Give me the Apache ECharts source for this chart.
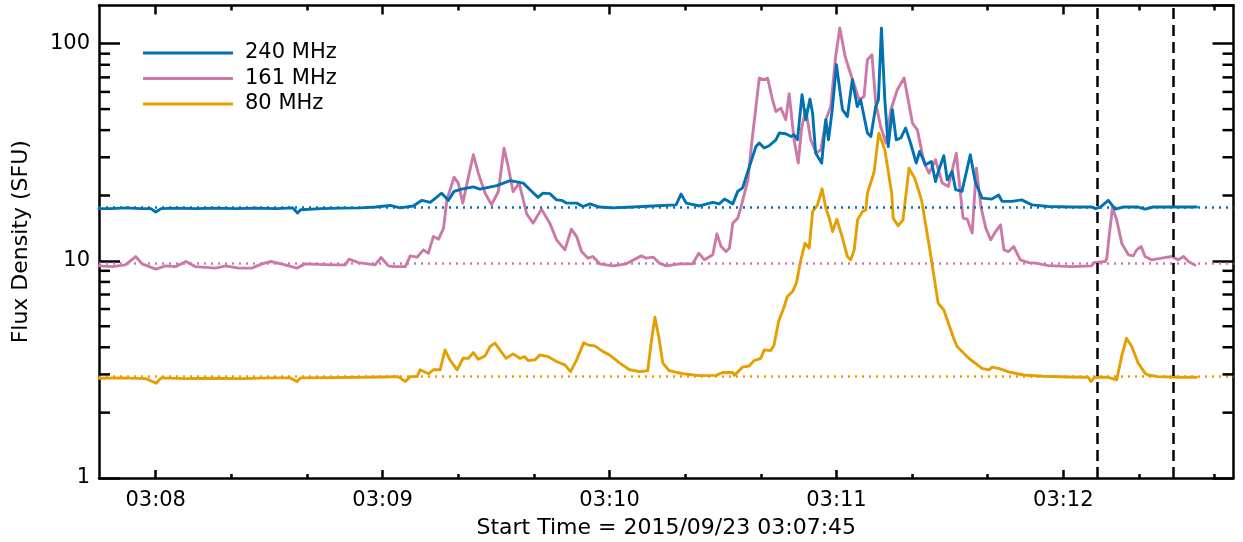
<!DOCTYPE html>
<html>
<head>
<meta charset="utf-8">
<script src="https://cdn.jsdelivr.net/npm/echarts@6/dist/echarts.min.js"></script>
<style>
html,body{margin:0;padding:0;background:#fff;}
#chart{width:1243px;height:542px;}
</style>
</head>
<body>
<div id="chart"></div>
<script>
// time axis: seconds after 03:07:00 ; plot spans 03:07:45 .. 03:12:45
const xMin = 45, xMax = 345;
const xMajor = [60, 120, 180, 240, 300];
const xLabels = ['03:08', '03:09', '03:10', '03:11', '03:12'];
const xMinor = [80, 100, 140, 160, 200, 220, 260, 280, 320, 340];
const yMinorTicks = [2, 3, 4, 5, 6, 7, 8, 9, 20, 30, 40, 50, 60, 70, 80, 90];
const seriesNames = ['240 MHz', '161 MHz', '80 MHz'];
const backgroundLevels = [17.7, 9.7, 2.95];
const eventLines = [309, 329]; // 03:12:09 and 03:12:29
const xTitle = 'Start Time = 2015/09/23 03:07:45';
const yTitle = 'Flux Density (SFU)';

const t240 = [45.0,48.2,52.1,56.1,58.7,60.0,61.4,65.3,70.6,75.9,81.1,86.4,91.7,96.2,97.5,98.3,103.6,108.8,114.1,118.1,122.0,124.6,128.1,130.4,132.6,135.6,137.4,138.9,140.9,144.0,145.7,150.2,153.7,157.2,158.9,161.1,162.4,164.2,166.0,167.3,168.6,171.3,173.0,174.8,177.4,180.9,186.1,191.4,197.6,198.9,200.3,203.8,207.3,209.0,210.4,212.6,213.9,215.2,217.0,218.7,219.6,220.9,222.2,224.0,224.9,226.6,228.0,228.8,229.7,230.9,231.9,233.0,233.7,234.5,236.1,237.2,237.9,238.9,240.0,241.6,242.9,244.2,245.5,246.4,248.2,249.1,250.4,251.1,251.9,252.8,253.7,254.8,255.8,257.0,258.3,259.6,261.1,262.0,263.6,265.1,266.2,267.1,268.4,269.3,270.6,271.5,273.2,275.4,276.7,278.5,281.1,282.9,283.8,286.4,289.0,291.7,296.1,302.2,307.5,308.5,309.8,311.9,313.7,315.9,319.8,321.6,323.8,329.1,335.2];
const v240 = [17.4,17.4,17.55,17.4,17.4,16.8,17.4,17.5,17.4,17.5,17.4,17.5,17.4,17.55,16.6,17.2,17.4,17.5,17.55,17.7,18.0,17.55,17.9,19.0,18.6,20.5,19.0,20.9,21.4,21.9,21.4,22.2,23.4,22.8,21.3,19.6,20.5,20.4,19.1,19.0,18.45,18.45,17.8,18.3,17.7,17.55,17.7,17.9,18.1,20.3,18.45,17.9,18.6,18.3,19.25,18.3,20.9,21.7,27.2,33.6,34.9,33.1,33.9,36.1,38.8,38.5,37.4,38.1,36.1,58.2,44.7,55.6,47.9,31.4,28.2,44.7,36.1,49.7,80.0,49.7,46.2,68.3,51.4,55.2,38.8,37.4,51.4,55.2,118,55.2,33.6,49.7,36.1,36.8,40.9,34.9,28.2,31.9,27.7,28.7,23.2,26.3,30.5,23.6,25.8,21.3,20.9,30.8,23.2,19.45,19.25,20.1,18.8,18.8,19.1,18.1,17.8,17.7,17.7,17.4,17.7,19.0,17.3,17.7,17.7,17.3,17.7,17.7,17.7];

const t161 = [45.0,48.5,52.0,54.7,56.4,60.0,62.6,65.2,68.0,70.5,75.8,78.4,81.9,85.4,88.1,90.5,94.2,97.3,99.5,106.5,110.1,111.1,113.6,118.0,119.6,121.5,122.9,126.0,127.3,129.1,130.8,132.1,133.4,134.8,136.1,137.0,138.9,140.0,141.2,142.7,144.0,145.3,147.1,148.8,150.6,152.1,153.2,154.5,156.1,158.1,159.8,162.0,164.2,166.0,168.2,169.9,171.3,172.6,174.3,175.6,177.4,180.9,184.4,188.4,189.7,191.6,193.2,195.0,198.5,202.0,203.6,205.1,207.3,208.4,209.5,210.8,211.7,212.6,213.9,214.8,216.6,217.5,219.6,220.9,221.8,223.1,224.0,225.3,226.6,227.5,228.8,229.9,230.8,231.9,233.2,234.7,235.9,237.2,238.5,239.8,240.9,242.3,243.4,244.7,246.0,247.3,248.2,249.4,250.4,251.7,253.1,254.4,256.1,257.9,260.1,261.4,263.2,264.5,266.2,268.0,269.6,271.7,272.6,273.5,274.6,275.9,277.0,278.2,279.5,280.8,282.1,283.4,284.3,285.5,286.9,288.6,290.8,292.6,296.1,302.2,307.5,308.0,311.1,311.5,312.2,313.0,314.1,315.5,317.2,318.5,319.4,320.6,321.6,323.4,326.0,328.7,330.4,331.8,333.1,334.8];
const v161 = [9.48,9.41,9.58,10.47,9.69,9.16,9.48,9.41,9.93,9.41,9.26,9.48,9.26,9.26,9.69,9.93,9.58,9.26,9.69,9.58,9.58,10.18,9.82,9.58,10.36,9.48,9.41,9.41,10.54,10.40,11.24,10.85,12.94,12.59,14.15,19.10,24.30,22.81,18.45,24.46,30.80,25.36,20.51,18.12,20.86,33.06,27.20,20.86,22.81,16.44,14.92,17.31,14.92,12.50,11.24,14.00,12.94,11.04,10.29,10.47,9.69,9.48,9.69,10.54,10.29,10.40,9.76,9.48,9.69,9.69,10.85,10.11,10.66,13.32,11.64,11.04,11.44,14.92,15.73,17.79,23.62,33.63,69.50,68.27,69.50,55.21,48.75,50.54,44.65,58.84,36.12,28.20,40.88,49.65,36.12,31.35,32.48,44.65,51.41,87.40,118.1,87.40,75.90,64.74,55.21,57.17,84.42,88.98,53.31,41.59,34.86,49.65,61.38,69.50,43.12,40.15,28.20,25.36,29.20,22.81,22.00,31.35,22.00,15.73,15.56,13.42,26.74,17.79,14.15,12.50,13.65,14.65,11.24,11.04,11.64,10.11,9.82,9.76,9.51,9.41,9.48,9.82,9.93,10.29,13.42,17.55,15.45,11.98,10.66,10.54,11.24,11.64,10.47,10.11,10.29,10.47,10.11,10.47,9.93,9.58];

const t80 = [45.0,50.8,57.4,60.1,61.4,67.9,74.5,82.4,90.4,95.6,97.3,98.3,106.2,114.1,120.7,124.1,126.0,127.3,129.1,129.9,132.1,133.4,135.2,136.5,137.8,139.7,141.3,142.7,144.0,145.3,147.1,148.4,149.7,151.0,152.6,154.5,156.3,157.6,158.5,160.3,161.6,163.8,166.0,168.2,169.7,171.3,173.2,174.3,176.1,178.3,180.0,182.7,185.3,188.0,190.1,191.0,192.0,193.0,194.1,195.8,199.4,203.8,208.2,209.9,212.6,213.0,215.2,216.9,218.2,220.0,220.9,222.6,223.5,224.7,226.2,227.0,228.4,229.4,230.6,231.7,232.8,233.7,235.0,236.2,237.2,238.1,239.0,240.1,241.5,242.9,243.8,244.7,245.6,246.9,247.8,248.2,249.6,250.0,251.2,252.8,254.6,255.0,256.3,257.6,259.2,260.7,262.5,264.7,266.9,268.4,271.0,271.9,275.0,278.5,280.3,281.2,282.9,285.5,289.5,294.7,301.3,306.6,307.3,308.2,311.9,314.1,315.4,316.7,318.1,319.8,321.6,322.4,325.1,330.4,335.2];
const v80 = [2.88,2.89,2.87,2.73,2.89,2.87,2.88,2.87,2.89,2.89,2.78,2.89,2.90,2.91,2.92,2.93,2.78,2.93,2.93,3.15,3.02,3.15,3.15,3.89,3.50,3.15,3.56,3.56,3.78,3.52,3.65,4.03,4.18,3.89,3.56,3.73,3.56,3.62,3.47,3.50,3.69,3.62,3.44,3.32,3.09,3.50,4.20,4.10,4.06,3.82,3.69,3.38,3.15,3.09,3.12,4.18,5.50,4.48,3.38,3.12,3.02,2.96,2.97,3.06,3.06,2.97,3.24,3.28,3.47,3.56,3.89,3.86,4.10,5.25,6.16,6.85,7.22,7.89,10.11,12.07,11.44,16.87,18.12,21.47,17.50,15.73,13.65,15.56,12.94,10.47,10.11,11.24,15.45,16.87,17.18,20.51,24.46,25.98,38.77,32.48,20.51,15.73,14.50,15.45,26.74,24.05,19.10,11.24,6.38,5.94,4.40,4.03,3.56,3.20,3.15,3.24,3.20,3.08,2.98,2.94,2.92,2.91,2.78,2.91,2.91,2.83,3.62,4.40,4.03,3.38,3.04,2.98,2.93,2.91,2.91];

const colors = ['#0072B2', '#CC79A7', '#E69F00'];
const FONT = 'DejaVu Sans';
const LW = 2.9;

function zip(t, v) { return t.map((x, i) => [x, v[i]]); }
const seriesData = [zip(t240, v240), zip(t161, v161), zip(t80, v80)];

const chart = echarts.init(document.getElementById('chart'), null, {renderer: 'canvas'});

const lineSeries = seriesNames.map((name, i) => {
  const mlData = [{yAxis: backgroundLevels[i], lineStyle: {color: colors[i], type: [2, 5], width: 2.5}}];
  if (i === 0) {
    eventLines.forEach(x => mlData.push({xAxis: x, lineStyle: {color: '#000', type: [11, 6], width: 2.5}}));
  }
  return {
    name: name,
    type: 'line',
    data: seriesData[i],
    xAxisIndex: 0, yAxisIndex: 0,
    symbol: 'none',
    smooth: false,
    z: 5 - i,
    lineStyle: {color: colors[i], width: LW, join: 'round', cap: 'round'},
    itemStyle: {color: colors[i]},
    markLine: {silent: true, symbol: ['none', 'none'], label: {show: false}, animation: false, data: mlData}
  };
});

const minorTickSeries = {
  type: 'custom',
  name: 'yMinorTicks',
  coordinateSystem: 'cartesian2d',
  xAxisIndex: 0, yAxisIndex: 0,
  silent: true,
  clip: false,
  z: 10,
  data: yMinorTicks.map(v => [xMin, v]),
  renderItem: function (params, api) {
    const p = api.coord([xMin, api.value(1)]);
    const q = api.coord([xMax, api.value(1)]);
    return {
      type: 'group',
      children: [
        {type: 'line', shape: {x1: p[0], y1: p[1], x2: p[0] + 11, y2: p[1]}, style: {stroke: '#000', lineWidth: 2.5}},
        {type: 'line', shape: {x1: q[0] - 11, y1: q[1], x2: q[0], y2: q[1]}, style: {stroke: '#000', lineWidth: 2.5}}
      ]
    };
  }
};

function xAxisBase(pos, values, len, showLine) {
  return {
    type: 'value', position: pos, min: xMin, max: xMax,
    axisLine: {show: showLine, onZero: false, lineStyle: {color: '#000', width: 2.5}},
    axisTick: {show: true, inside: true, length: len, customValues: values, lineStyle: {color: '#000', width: 2.5}},
    axisLabel: {show: false},
    splitLine: {show: false}
  };
}

const xAxes = [
  Object.assign(xAxisBase('bottom', xMajor, 8, true), {
    axisLabel: {
      show: true, customValues: xMajor, margin: 12,
      fontFamily: FONT, fontSize: 21, color: '#000',
      formatter: v => { const k = xMajor.indexOf(Math.round(v)); return k >= 0 ? xLabels[k] : ''; }
    },
    name: xTitle, nameLocation: 'middle', nameGap: 39,
    nameTextStyle: {fontFamily: FONT, fontSize: 22, color: '#000'}
  }),
  xAxisBase('bottom', xMinor, 4, false),
  xAxisBase('top', xMajor, 9, true),
  xAxisBase('top', xMinor, 5, false)
];

function yAxisBase(pos, showLabel) {
  return {
    type: 'log', logBase: 10, position: pos, min: 1, max: 150, interval: 1,
    axisLine: {show: true, onZero: false, lineStyle: {color: '#000', width: 2.5}},
    axisTick: {show: true, inside: true, length: 21, lineStyle: {color: '#000', width: 2.5}},
    axisLabel: {show: showLabel, showMaxLabel: false, margin: 9, fontFamily: FONT, fontSize: 21, color: '#000',
      formatter: v => String(Math.round(v))},
    splitLine: {show: false},
    minorTick: {show: false}
  };
}

const yAxes = [
  Object.assign(yAxisBase('left', true), {
    name: yTitle, nameLocation: 'middle', nameGap: 67,
    nameTextStyle: {fontFamily: FONT, fontSize: 22, color: '#000'}
  }),
  yAxisBase('right', false)
];

chart.setOption({
  animation: false,
  backgroundColor: '#fff',
  grid: {left: 99, right: 9.5, top: 5.5, bottom: 64, containLabel: false, outerBoundsMode: 'none'},
  legend: {
    data: seriesNames,
    orient: 'vertical',
    left: 138, top: 37.5,
    itemWidth: 90, itemHeight: 14, itemGap: 4.5,
    icon: 'path://M0,0 L90,0 L90,2.8 L0,2.8 Z',
    textStyle: {fontFamily: FONT, fontSize: 21, color: '#000', padding: [0, 0, 0, 7]},
    selectedMode: false
  },
  xAxis: xAxes,
  yAxis: yAxes,
  series: lineSeries.concat([minorTickSeries])
});
</script>
</body>
</html>
